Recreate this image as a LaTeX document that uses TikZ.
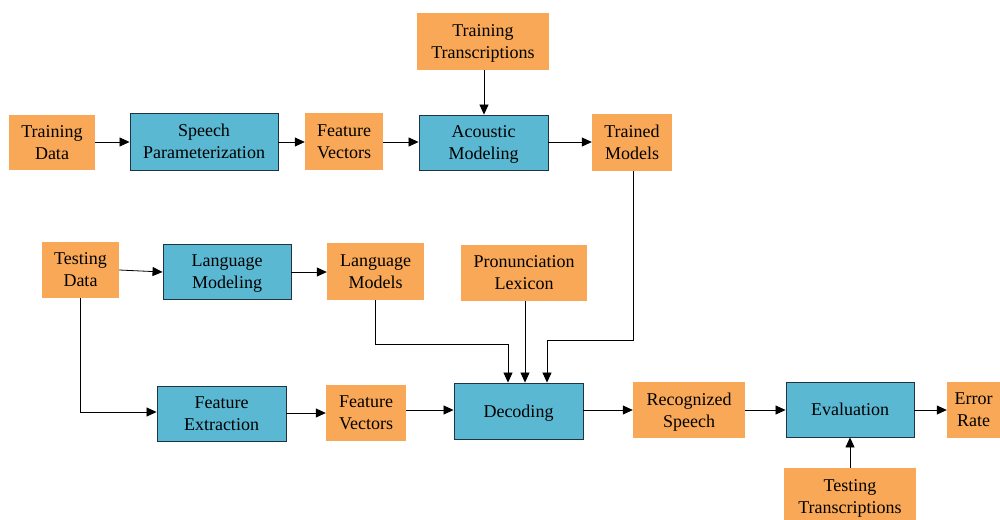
\documentclass[tikz,border=0pt]{standalone}
\usepackage{fontspec}
\setmainfont{Liberation Serif}
\newfontfamily\labelfont{Liberation Serif}
\usetikzlibrary{arrows.meta}
\definecolor{stageorange}{HTML}{F9A857}
\definecolor{stageblue}{HTML}{5AB8D2}
\definecolor{stageedge}{HTML}{1E3440}
\begin{document}
\begin{tikzpicture}[x=1pt,y=-1pt,
  every node/.style={inner sep=0pt, align=center,
    font=\labelfont\fontsize{18}{22}\selectfont},
  databox/.style={fill=stageorange, text depth=-1.5pt},
  procbox/.style={fill=stageblue, draw=stageedge, line width=0.9pt, text depth=-1.5pt},
  flow/.style={-{Triangle[length=10pt,width=9pt]}, line width=0.8pt, black}]
\useasboundingbox (0,0) rectangle (1000,519);

% training path
\node[databox, minimum width=86pt, minimum height=55pt] (trd) at (52,142.5) {Training\\Data};
\node[procbox, minimum width=148pt, minimum height=57pt] (sp) at (204,141.5) {Speech\\Parameterization};
\node[databox, minimum width=78pt, minimum height=57pt] (fv1) at (344,141.5) {Feature\\Vectors};
\node[procbox, minimum width=129pt, minimum height=55pt] (am) at (483.5,142.5) {Acoustic\\Modeling};
\node[databox, minimum width=132pt, minimum height=57pt] (trt) at (483,41.5) {Training\\Transcriptions};
\node[databox, minimum width=80pt, minimum height=57pt] (tm) at (632,142.5) {Trained\\Models};

% testing path
\node[databox, minimum width=77pt, minimum height=56pt] (ted) at (80.5,270) {Testing\\Data};
\node[procbox, minimum width=128pt, minimum height=55pt] (lm) at (227,271.5) {Language\\Modeling};
\node[databox, minimum width=97pt, minimum height=57pt] (lms) at (375.5,271.5) {Language\\Models};
\node[databox, minimum width=126pt, minimum height=56pt] (pl) at (524,273) {Pronunciation\\Lexicon};
\node[procbox, minimum width=129pt, minimum height=55pt] (fe) at (221.5,413.5) {Feature\\Extraction};
\node[databox, minimum width=80pt, minimum height=56pt] (fv2) at (366,413) {Feature\\Vectors};
\node[procbox, minimum width=129pt, minimum height=56pt] (dec) at (518.5,411) {Decoding};
\node[databox, minimum width=112pt, minimum height=56pt] (rs) at (689,410) {Recognized\\Speech};
\node[procbox, minimum width=128pt, minimum height=55pt] (ev) at (850,409.5) {Evaluation};
\node[databox, minimum width=53pt, minimum height=56pt] (er) at (973.5,410) {Error\\Rate};
\node[databox, minimum width=132pt, minimum height=57pt] (tt) at (850,496.5) {Testing\\Transcriptions};

% training connectors
\draw[flow] (trd.east |- 0,142) -- (sp.west |- 0,142);
\draw[flow] (sp.east |- 0,142) -- (fv1.west |- 0,142);
\draw[flow] (fv1.east |- 0,142) -- (am.west |- 0,142);
\draw[flow] (trt.south -| 484,0) -- (am.north -| 484,0);
\draw[flow] (am.east |- 0,142) -- (tm.west |- 0,142);

% testing connectors
\draw[flow] (ted.east |- 0,270) -- (lm.west |- 0,272);
\draw[flow] (lm.east |- 0,272) -- (lms.west |- 0,272);
\draw[flow] (ted.south -| 80,0) |- (fe.west |- 0,412);
\draw[flow] (fe.east |- 0,413) -- (fv2.west |- 0,413);
\draw[flow] (fv2.east |- 0,410) -- (dec.west |- 0,410);
\draw[flow] (lms.south -| 375,0) -- (375,344) -| (dec.north -| 508,0);
\draw[flow] (pl.south -| 525,0) -- (dec.north -| 525,0);
\draw[flow] (tm.south -| 633,0) -- (633,340) -| (dec.north -| 547,0);
\draw[flow] (dec.east |- 0,410) -- (rs.west |- 0,410);
\draw[flow] (rs.east |- 0,410) -- (ev.west |- 0,410);
\draw[flow] (ev.east |- 0,410) -- (er.west |- 0,410);
\draw[flow] (tt.north -| 850,0) -- (ev.south -| 850,0);
\end{tikzpicture}
\end{document}
